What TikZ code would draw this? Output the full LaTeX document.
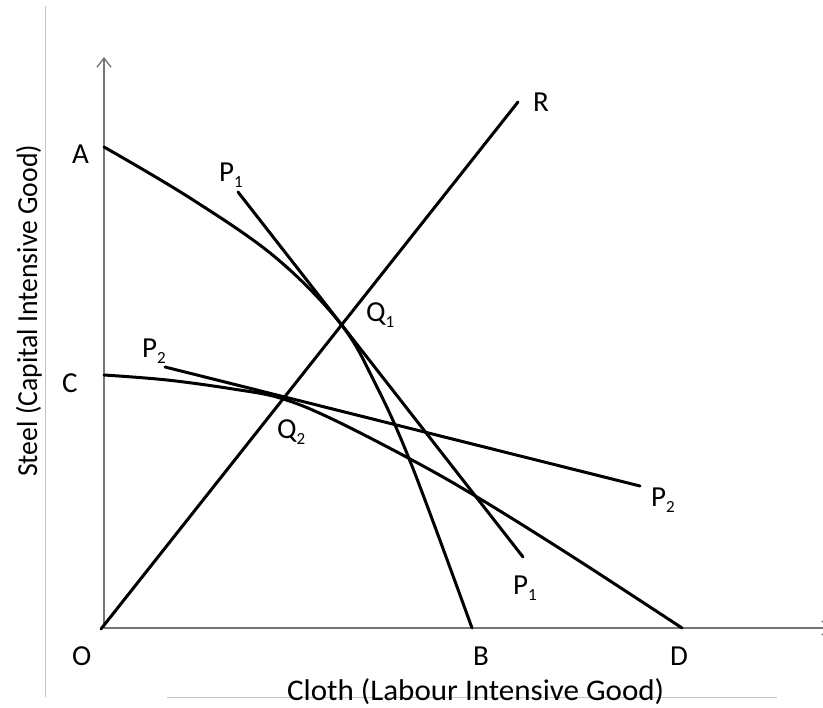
\documentclass[tikz,border=0pt]{standalone}
\usepackage{fontspec}
\setmainfont{Carlito}
\usepackage{graphicx}
\usetikzlibrary{arrows.meta}
\definecolor{axisgray}{RGB}{118,118,118}
\definecolor{faintgray}{RGB}{196,196,196}
\newcommand\subnum[1]{\raisebox{-6pt}{\fontsize{17}{17}\selectfont #1}}
\begin{document}
\begin{tikzpicture}[x=1pt,y=-1pt,
  curve/.style={line width=3pt, black, line cap=round},
  axisline/.style={line width=2pt, axisgray, -{Straight Barb[length=9pt,width=14pt,line width=1.4pt]}},
  faint/.style={line width=0.9pt, faintgray},
  lbl/.style={inner sep=0pt, anchor=base west, font=\fontsize{29}{29}\selectfont},
  axlabel/.style={inner sep=0pt, anchor=base west}]
\useasboundingbox (0,0) rectangle (823,708);
\clip (0,0) rectangle (823,708);
% points
\coordinate (O) at (104,628);
\coordinate (Ytop) at (104,57);
\coordinate (Xend) at (832,628);
\coordinate (A) at (104,147);
\coordinate (B) at (472,628);
\coordinate (C) at (104,375);
\coordinate (D) at (682,628);
\coordinate (Ostart) at (101,629);
\coordinate (Rend) at (518,102);
\coordinate (P1a) at (238,192);
\coordinate (P1b) at (523,557);
\coordinate (P2a) at (165,367);
\coordinate (P2b) at (640,486);
\coordinate (F1) at (45,6);
\coordinate (F2) at (45,697);
\coordinate (F3) at (167,697);
\coordinate (F4) at (777,697);
% faint frame lines
\draw[faint] (F1) -- (F2);
\draw[faint] (F3) -- (F4);
% axes
\draw[axisline] (O) -- (Ytop);
\draw[axisline] (O) -- (Xend);
% production possibility curves
\draw[curve] plot[smooth, tension=0.6] coordinates {(A) (190,198) (275,257) (340,323) (375,383) (412,466) (B)};
\draw[curve] plot[smooth, tension=0.6] coordinates {(C) (167,380) (233,389) (280,398) (330,418) (412,460) (477,497) (570,555) (D)};
% straight lines
\draw[curve] (Ostart) -- (Rend);
\draw[curve] (P1a) -- (P1b);
\draw[curve] (P2a) -- (P2b);
% labels
\node[lbl] (lA) at (72,164) {A};
\node[lbl] (lC) at (62,393) {C};
\node[lbl] (lO) at (72,666) {O};
\node[lbl] (lB) at (473,666) {B};
\node[lbl] (lD) at (670,666) {D};
\node[lbl] (lR) at (533,112) {R};
\node[lbl] (lP1t) at (219,182) {P\subnum{1}};
\node[lbl] (lQ1) at (366,322) {Q\subnum{1}};
\node[lbl] (lP2l) at (142,358) {P\subnum{2}};
\node[lbl] (lQ2) at (277,439) {Q\subnum{2}};
\node[lbl] (lP2r) at (651,507) {P\subnum{2}};
\node[lbl] (lP1b) at (513,595) {P\subnum{1}};
\node[axlabel] (xlab) at (287,700) {\resizebox{377pt}{\height}{\fontsize{30}{30}\selectfont Cloth (Labour Intensive Good)}};
\node[axlabel, rotate=90] (ylab) at (37,477) {\resizebox{332pt}{\height}{\fontsize{29}{29}\selectfont Steel (Capital Intensive Good)}};
\end{tikzpicture}
\end{document}
